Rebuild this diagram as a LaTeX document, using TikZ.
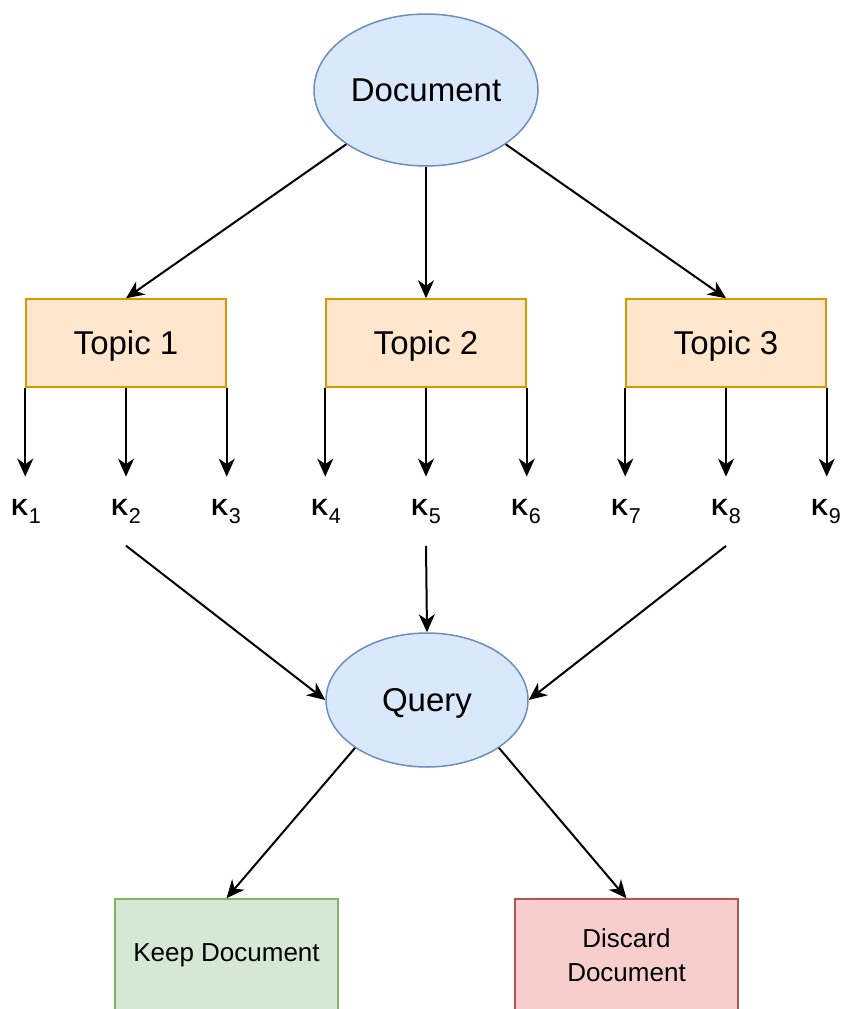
\documentclass[tikz,border=0pt]{standalone}
\usepackage{fontspec}
\setmainfont{Liberation Sans}
\usetikzlibrary{arrows.meta,shapes.geometric}

\definecolor{blueFill}{HTML}{DAE8FC}
\definecolor{blueLine}{HTML}{6C8EBF}
\definecolor{orangeFill}{HTML}{FFE6CC}
\definecolor{orangeLine}{HTML}{D79B00}
\definecolor{greenFill}{HTML}{D5E8D4}
\definecolor{greenLine}{HTML}{82B366}
\definecolor{redFill}{HTML}{F8CECC}
\definecolor{redLine}{HTML}{B85450}

% keyword label: bold K with a lowered index
\newcommand{\kwlabel}[1]{{\fontsize{23.5}{23.5}\selectfont\bfseries K}\kern0.5pt\raisebox{-8.5pt}{\fontsize{21.5}{21.5}\selectfont #1}}

\tikzset{
  oval/.style={ellipse, draw=blueLine, fill=blueFill, line width=1.5pt,
    font=\fontsize{33}{38}\selectfont, inner sep=0pt, text depth=0pt},
  topicbox/.style={rectangle, draw=orangeLine, fill=orangeFill, line width=1.5pt,
    minimum width=200pt, minimum height=88pt, inner sep=0pt, text depth=0pt,
    font=\fontsize{33}{38}\selectfont},
  outbox/.style={rectangle, line width=1.5pt, minimum width=223pt,
    minimum height=112pt, inner sep=0pt, align=center,
    font=\fontsize{26}{34}\selectfont},
  kw/.style={anchor=base, inner xsep=0pt, inner ysep=22pt},
  arr/.style={-{Stealth[length=18pt,width=16pt,inset=5.5pt]}, line width=2pt, black},
}

\begin{document}
\begin{tikzpicture}[x=1pt,y=-1pt]
\useasboundingbox (0,0) rectangle (845,1009);

% root and topics
\node[oval, minimum width=224pt, minimum height=152pt] (doc) at (426,90) {Document};
\node[topicbox] (t1) at (126,343) {Topic 1};
\node[topicbox] (t2) at (426,343) {Topic 2};
\node[topicbox] (t3) at (726,343) {Topic 3};

\draw[arr] (doc.south west) -- (t1.north);
\draw[arr] (doc.south) -- (t2.north);
\draw[arr] (doc.south east) -- (t3.north);

% keywords
\node[kw] (k1) at (26,515) {\kwlabel{1}};
\node[kw] (k2) at (126,515) {\kwlabel{2}};
\node[kw] (k3) at (226,515) {\kwlabel{3}};
\node[kw] (k4) at (326,515) {\kwlabel{4}};
\node[kw] (k5) at (426,515) {\kwlabel{5}};
\node[kw] (k6) at (526,515) {\kwlabel{6}};
\node[kw] (k7) at (626,515) {\kwlabel{7}};
\node[kw] (k8) at (726,515) {\kwlabel{8}};
\node[kw] (k9) at (826,515) {\kwlabel{9}};

\draw[arr] (t1.south west) -- (t1.south west |- k1.north);
\draw[arr] (t1.south) -- (t1.south |- k2.north);
\draw[arr] (t1.south east) -- (t1.south east |- k3.north);
\draw[arr] (t2.south west) -- (t2.south west |- k4.north);
\draw[arr] (t2.south) -- (t2.south |- k5.north);
\draw[arr] (t2.south east) -- (t2.south east |- k6.north);
\draw[arr] (t3.south west) -- (t3.south west |- k7.north);
\draw[arr] (t3.south) -- (t3.south |- k8.north);
\draw[arr] (t3.south east) -- (t3.south east |- k9.north);

% query and decision
\node[oval, minimum width=202pt, minimum height=134pt] (q) at (427,700) {Query};

\draw[arr] (k2.south) -- (q.west);
\draw[arr] (k5.south) -- (q.north);
\draw[arr] (k8.south) -- (q.east);

\node[outbox, draw=greenLine, fill=greenFill] (keep) at (226.5,955) {Keep Document};
\node[outbox, draw=redLine, fill=redFill] (discard) at (626.5,955) {Discard\\Document};

\draw[arr] (q.south west) -- (keep.north);
\draw[arr] (q.south east) -- (discard.north);
\end{tikzpicture}
\end{document}
